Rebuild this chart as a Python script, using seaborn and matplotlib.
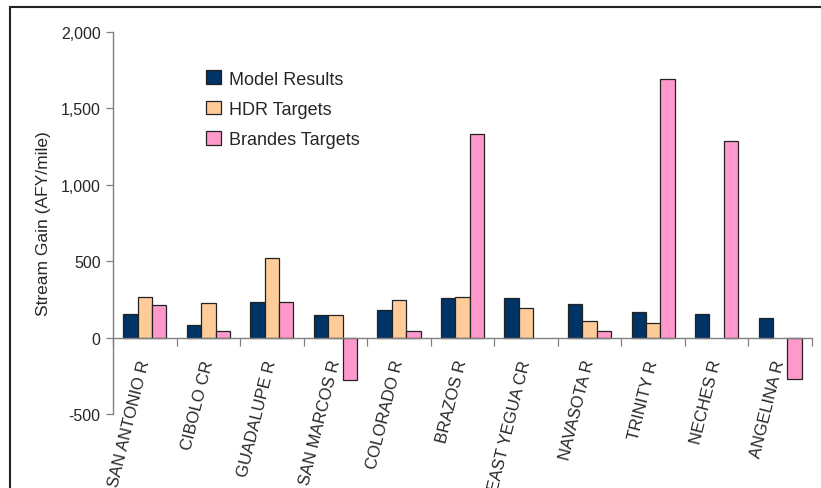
import numpy as np
import pandas as pd
import matplotlib
matplotlib.use("Agg")
import matplotlib.pyplot as plt
import matplotlib.ticker as mticker
from matplotlib.patches import Rectangle
import seaborn as sns

# values (AFY/mile)
rivers = ["SAN ANTONIO R", "CIBOLO CR", "GUADALUPE R", "SAN MARCOS R", "COLORADO R",
          "BRAZOS R", "EAST YEGUA CR", "NAVASOTA R", "TRINITY R", "NECHES R", "ANGELINA R"]
model_results = [157, 80, 231, 148, 179, 260, 260, 222, 170, 155, 126]
hdr_targets = [266, 227, 519, 150, 244, 266, 196, 111, 96, np.nan, np.nan]
brandes_targets = [214, 44, 235, -279, 44, 1334, np.nan, 44, 1694, 1288, -270]

series = ["Model Results", "HDR Targets", "Brandes Targets"]
colors = ["#003366", "#FFCC99", "#FF99CC"]

df = pd.DataFrame({"river": rivers, "Model Results": model_results,
                   "HDR Targets": hdr_targets, "Brandes Targets": brandes_targets})
long_df = df.melt(id_vars="river", var_name="series", value_name="gain").dropna()

sns.set_style("white")
plt.rcParams["font.family"] = ["Liberation Sans", "DejaVu Sans"]

fig = plt.figure(figsize=(8.21, 4.89), dpi=100)
ax = fig.add_axes([113 / 821, 1 - 415 / 489, (812 - 113) / 821, (415 - 33) / 489])

sns.barplot(data=long_df, x="river", y="gain", hue="series", order=rivers,
            hue_order=series, palette=colors, width=0.68, edgecolor="#222222",
            linewidth=0.9, saturation=1, ax=ax, errorbar=None)

ax.set_xlim(-0.5, len(rivers) - 0.5)
ax.set_ylim(-500, 2000)
ax.yaxis.set_major_locator(mticker.MultipleLocator(500))
ax.yaxis.set_major_formatter(mticker.FuncFormatter(lambda v, p: f"{v:,.0f}"))
ax.tick_params(axis="y", left=True, length=5, width=0.9, color="#808080",
               labelsize=11.5, pad=4)
ax.set_ylabel("Stream Gain (AFY/mile)", fontsize=12.5, labelpad=7)
ax.set_xlabel("")

# x axis runs through zero, ticks sit between the groups
ax.spines["bottom"].set_position(("data", 0))
for side in ["top", "right"]:
    ax.spines[side].set_visible(False)
for side in ["left", "bottom"]:
    ax.spines[side].set_color("#808080")
    ax.spines[side].set_linewidth(1.0)

ax.set_xticks(np.arange(-0.5, len(rivers), 1))
ax.set_xticklabels([])
ax.set_xticks(np.arange(len(rivers)), minor=True)
ax.set_xticklabels(rivers, minor=True, rotation=76, ha="right", va="center",
                   rotation_mode="anchor", fontsize=12)
ax.tick_params(axis="x", which="major", bottom=True, length=6, width=0.9,
               color="#808080", direction="out")
ax.tick_params(axis="x", which="minor", bottom=False, length=0, pad=16)

leg = ax.legend(loc="upper left", bbox_to_anchor=(0.110, 0.942), frameon=False,
                fontsize=13, handlelength=0.8, handleheight=0.8,
                handletextpad=0.45, labelspacing=0.72)
for h in leg.legend_handles:
    h.set_edgecolor("#222222")
    h.set_linewidth(0.9)

# chart area border (cropped on right and bottom)
fig.patches.append(Rectangle((10 / 821, -0.5), 2.0, 1.5 - 8 / 489,
                             transform=fig.transFigure, fill=False,
                             edgecolor="#222222", linewidth=1.5))

fig.savefig("out.png", dpi=100)
